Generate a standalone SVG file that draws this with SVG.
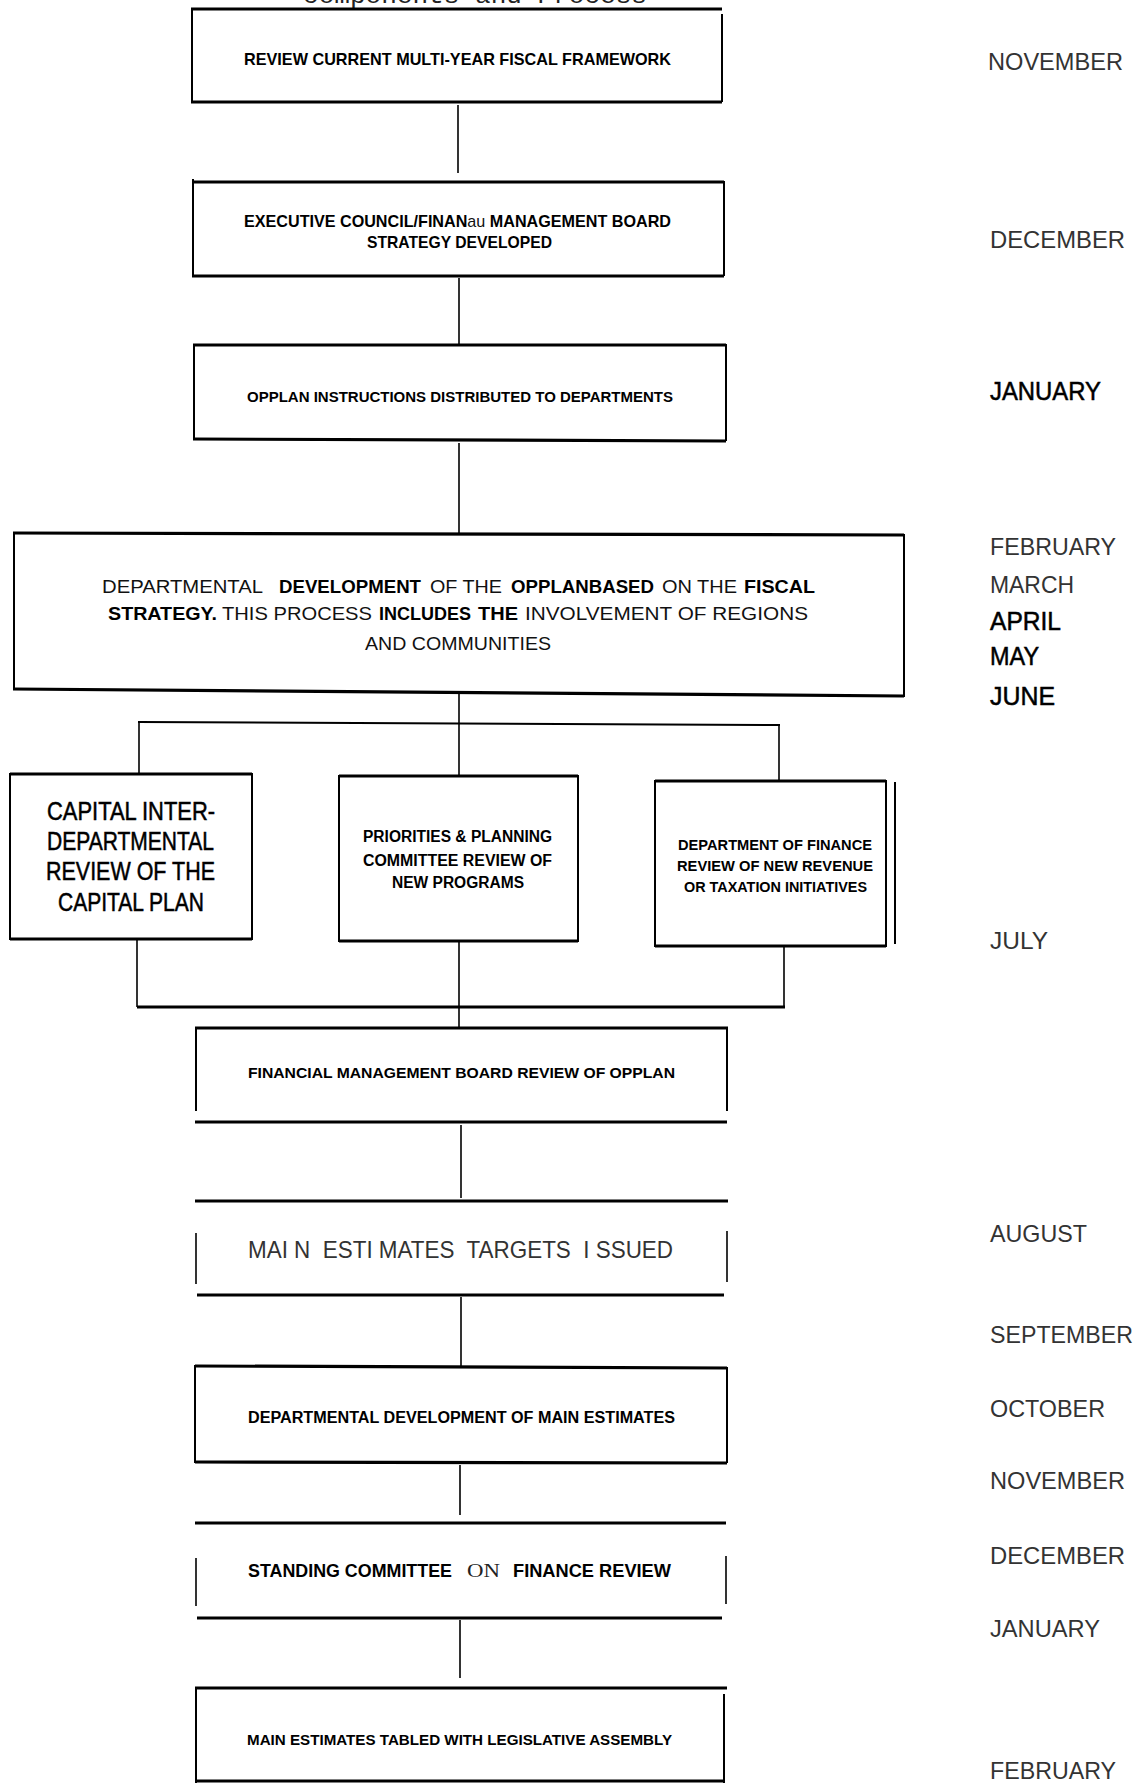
<svg xmlns="http://www.w3.org/2000/svg" width="1138" height="1783" viewBox="0 0 1138 1783">
<style>
  .ln { stroke:#000; stroke-width:2; fill:none; stroke-linecap:square; }
  .th { stroke:#000; stroke-width:3.2; fill:none; }
  .cn { stroke:#000; stroke-width:1.6; fill:none; }
  .m { font-family:"Liberation Sans Narrow","Liberation Sans",Arial,sans-serif; font-size:24px; fill:#333; white-space:pre; }
  .mb { font-family:"Liberation Sans Narrow","Liberation Sans",Arial,sans-serif; font-size:25px; fill:#000; stroke:#000; stroke-width:0.5; }
  .b { font-family:"Liberation Sans Narrow","Liberation Sans",Arial,sans-serif; font-weight:bold; fill:#000; }
  .r { font-family:"Liberation Sans Narrow","Liberation Sans",Arial,sans-serif; font-weight:normal; fill:#111; }
  .t { font-family:"Liberation Mono","DejaVu Sans Mono",monospace; font-size:24px; fill:#222; }
</style>
<rect width="1138" height="1783" fill="#fff"/>

<text class="t" x="303" y="3" textLength="344" lengthAdjust="spacingAndGlyphs">components and Process</text>

<g id="connectors">
  <line class="cn" x1="458" y1="105" x2="458" y2="173"/>
  <line class="cn" x1="459" y1="278" x2="459" y2="345"/>
  <line class="cn" x1="459" y1="443" x2="459" y2="533"/>
  <line class="cn" x1="459" y1="692" x2="459" y2="776"/>
  <line class="ln" x1="139" y1="722" x2="779" y2="725"/>
  <line class="cn" x1="139" y1="722" x2="139" y2="774"/>
  <line class="cn" x1="779" y1="725" x2="779" y2="781"/>
  <line class="cn" x1="137" y1="939" x2="137" y2="1007"/>
  <line class="cn" x1="459" y1="941" x2="459" y2="1028"/>
  <line class="cn" x1="784" y1="946" x2="784" y2="1007"/>
  <line class="th" x1="137" y1="1007" x2="785" y2="1007"/>
  <line class="cn" x1="461" y1="1125" x2="461" y2="1198"/>
  <line class="cn" x1="461" y1="1297" x2="461" y2="1366"/>
  <line class="cn" x1="460" y1="1465" x2="460" y2="1515"/>
  <line class="cn" x1="460" y1="1620" x2="460" y2="1678"/>
</g>

<g id="node-review-framework">
  <line class="th" x1="191" y1="9" x2="722" y2="9"/>
  <line class="ln" x1="192" y1="9" x2="192" y2="101"/>
  <line class="ln" x1="722" y1="15" x2="722" y2="101"/>
  <line class="th" x1="191" y1="102" x2="722" y2="102"/>
  <text class="b" x="244" y="65" font-size="17" textLength="427" lengthAdjust="spacingAndGlyphs">REVIEW CURRENT MULTI-YEAR FISCAL FRAMEWORK</text>
</g>

<g id="node-executive-council">
  <line class="th" x1="192" y1="182" x2="724" y2="182"/>
  <line class="ln" x1="193" y1="180" x2="193" y2="275"/>
  <line class="ln" x1="724" y1="182" x2="724" y2="275"/>
  <line class="th" x1="192" y1="276" x2="724" y2="276"/>
  <text class="b" x="244" y="227" font-size="17" textLength="427" lengthAdjust="spacingAndGlyphs">EXECUTIVE COUNCIL/FINAN<tspan class="r">au</tspan> MANAGEMENT BOARD</text>
  <text class="b" x="367" y="248" font-size="17" textLength="185" lengthAdjust="spacingAndGlyphs">STRATEGY DEVELOPED</text>
</g>

<g id="node-opplan-instructions">
  <line class="th" x1="193" y1="345" x2="726" y2="345"/>
  <line class="ln" x1="194" y1="345" x2="194" y2="438"/>
  <line class="ln" x1="726" y1="345" x2="726" y2="440"/>
  <line class="th" x1="193" y1="439" x2="726" y2="441"/>
  <text class="b" x="247" y="402" font-size="14" textLength="426" lengthAdjust="spacingAndGlyphs">OPPLAN INSTRUCTIONS DISTRIBUTED TO DEPARTMENTS</text>
</g>

<g id="node-departmental-opplan">
  <line class="th" x1="13" y1="533" x2="904" y2="535"/>
  <line class="ln" x1="14" y1="533" x2="14" y2="689"/>
  <line class="ln" x1="904" y1="535" x2="904" y2="696"/>
  <line class="th" x1="13" y1="689" x2="904" y2="696"/>
  <text class="r" x="102" y="593" font-size="18" textLength="161" lengthAdjust="spacingAndGlyphs">DEPARTMENTAL</text>
  <text class="b" x="279" y="593" font-size="18" textLength="142" lengthAdjust="spacingAndGlyphs">DEVELOPMENT</text>
  <text class="r" x="430" y="593" font-size="18" textLength="72" lengthAdjust="spacingAndGlyphs">OF THE</text>
  <text class="b" x="511" y="593" font-size="18" textLength="143" lengthAdjust="spacingAndGlyphs">OPPLANBASED</text>
  <text class="r" x="662" y="593" font-size="18" textLength="75" lengthAdjust="spacingAndGlyphs">ON THE</text>
  <text class="b" x="744" y="593" font-size="18" textLength="71" lengthAdjust="spacingAndGlyphs">FISCAL</text>
  <text class="b" x="108" y="620" font-size="18" textLength="109" lengthAdjust="spacingAndGlyphs">STRATEGY.</text>
  <text class="r" x="222" y="620" font-size="18" textLength="150" lengthAdjust="spacingAndGlyphs">THIS PROCESS</text>
  <text class="b" x="379" y="620" font-size="18" textLength="92" lengthAdjust="spacingAndGlyphs">INCLUDES</text>
  <text class="b" x="478" y="620" font-size="18" textLength="40" lengthAdjust="spacingAndGlyphs">THE</text>
  <text class="r" x="525" y="620" font-size="18" textLength="283" lengthAdjust="spacingAndGlyphs">INVOLVEMENT OF REGIONS</text>
  <text class="r" x="365" y="650" font-size="18" textLength="186" lengthAdjust="spacingAndGlyphs">AND COMMUNITIES</text>
</g>

<g id="node-capital-review">
  <rect class="ln" x="10" y="774" width="242" height="165"/>
  <line class="th" x1="10" y1="774" x2="252" y2="774"/>
  <line class="th" x1="10" y1="939" x2="252" y2="939"/>
  <text class="mb" x="47" y="820" textLength="168" lengthAdjust="spacingAndGlyphs">CAPITAL INTER-</text>
  <text class="mb" x="47" y="850" textLength="167" lengthAdjust="spacingAndGlyphs">DEPARTMENTAL</text>
  <text class="mb" x="46" y="880" textLength="169" lengthAdjust="spacingAndGlyphs">REVIEW OF THE</text>
  <text class="mb" x="58" y="911" textLength="146" lengthAdjust="spacingAndGlyphs">CAPITAL PLAN</text>
</g>

<g id="node-priorities-planning">
  <rect class="ln" x="339" y="776" width="239" height="165"/>
  <line class="th" x1="339" y1="776" x2="578" y2="776"/>
  <line class="th" x1="339" y1="941" x2="578" y2="941"/>
  <text class="b" x="363" y="842" font-size="16" textLength="189" lengthAdjust="spacingAndGlyphs">PRIORITIES &amp; PLANNING</text>
  <text class="b" x="363" y="866" font-size="16" textLength="189" lengthAdjust="spacingAndGlyphs">COMMITTEE REVIEW OF</text>
  <text class="b" x="392" y="888" font-size="16" textLength="132" lengthAdjust="spacingAndGlyphs">NEW PROGRAMS</text>
</g>

<g id="node-finance-review">
  <rect class="ln" x="655" y="781" width="231" height="165"/>
  <line class="th" x1="655" y1="781" x2="886" y2="781"/>
  <line class="th" x1="655" y1="946" x2="886" y2="946"/>
  <line class="ln" x1="895" y1="783" x2="895" y2="943"/>
  <text class="b" x="678" y="850" font-size="14" textLength="194" lengthAdjust="spacingAndGlyphs">DEPARTMENT OF FINANCE</text>
  <text class="b" x="677" y="871" font-size="14" textLength="196" lengthAdjust="spacingAndGlyphs">REVIEW OF NEW REVENUE</text>
  <text class="b" x="684" y="892" font-size="14" textLength="183" lengthAdjust="spacingAndGlyphs">OR TAXATION INITIATIVES</text>
</g>

<g id="node-fmb-review">
  <line class="th" x1="195" y1="1028" x2="728" y2="1028"/>
  <line class="ln" x1="196" y1="1028" x2="196" y2="1110"/>
  <line class="ln" x1="727" y1="1028" x2="727" y2="1110"/>
  <line class="th" x1="195" y1="1122" x2="727" y2="1122"/>
  <text class="b" x="248" y="1078" font-size="15" textLength="427" lengthAdjust="spacingAndGlyphs">FINANCIAL MANAGEMENT BOARD REVIEW OF OPPLAN</text>
</g>

<g id="node-targets-issued">
  <line class="th" x1="195" y1="1201" x2="728" y2="1201"/>
  <line class="cn" x1="196" y1="1233" x2="196" y2="1284"/>
  <line class="cn" x1="727" y1="1231" x2="727" y2="1282"/>
  <line class="th" x1="197" y1="1295" x2="724" y2="1295"/>
  <text class="m" x="248" y="1258" font-size="25" textLength="425" lengthAdjust="spacingAndGlyphs">MAI N  ESTI MATES  TARGETS  I SSUED</text>
</g>

<g id="node-dept-main-estimates">
  <line class="th" x1="195" y1="1366" x2="727" y2="1368"/>
  <line class="ln" x1="195" y1="1366" x2="195" y2="1462"/>
  <line class="ln" x1="727" y1="1368" x2="727" y2="1462"/>
  <line class="th" x1="195" y1="1462" x2="727" y2="1463"/>
  <text class="b" x="248" y="1423" font-size="16" textLength="427" lengthAdjust="spacingAndGlyphs">DEPARTMENTAL DEVELOPMENT OF MAIN ESTIMATES</text>
</g>

<g id="node-standing-committee">
  <line class="th" x1="195" y1="1523" x2="726" y2="1523"/>
  <line class="cn" x1="196" y1="1558" x2="196" y2="1606"/>
  <line class="cn" x1="726" y1="1556" x2="726" y2="1604"/>
  <line class="th" x1="197" y1="1618" x2="722" y2="1618"/>
  <text class="b" x="248" y="1577" font-size="19" textLength="204" lengthAdjust="spacingAndGlyphs">STANDING COMMITTEE</text>
  <text x="467" y="1577" font-family="Liberation Serif, serif" font-size="19" fill="#222" textLength="33" lengthAdjust="spacingAndGlyphs">ON</text>
  <text class="b" x="513" y="1577" font-size="19" textLength="158" lengthAdjust="spacingAndGlyphs">FINANCE REVIEW</text>
</g>

<g id="node-tabled-assembly">
  <line class="th" x1="195" y1="1688" x2="727" y2="1688"/>
  <line class="ln" x1="196" y1="1688" x2="196" y2="1782"/>
  <line class="ln" x1="724" y1="1695" x2="724" y2="1782"/>
  <line class="th" x1="195" y1="1781" x2="724" y2="1781"/>
  <text class="b" x="247" y="1745" font-size="15" textLength="425" lengthAdjust="spacingAndGlyphs">MAIN ESTIMATES TABLED WITH LEGISLATIVE ASSEMBLY</text>
</g>

<g id="months">
  <text class="m" x="988" y="70" textLength="135" lengthAdjust="spacingAndGlyphs">NOVEMBER</text>
  <text class="m" x="990" y="248" textLength="135" lengthAdjust="spacingAndGlyphs">DECEMBER</text>
  <text class="mb" x="990" y="400" textLength="111" lengthAdjust="spacingAndGlyphs">JANUARY</text>
  <text class="m" x="990" y="555" textLength="126" lengthAdjust="spacingAndGlyphs">FEBRUARY</text>
  <text class="m" x="990" y="593" textLength="84" lengthAdjust="spacingAndGlyphs">MARCH</text>
  <text class="mb" x="990" y="630" textLength="71" lengthAdjust="spacingAndGlyphs">APRIL</text>
  <text class="mb" x="990" y="665" textLength="49" lengthAdjust="spacingAndGlyphs">MAY</text>
  <text class="mb" x="990" y="705" textLength="65" lengthAdjust="spacingAndGlyphs">JUNE</text>
  <text class="m" x="990" y="949" textLength="58" lengthAdjust="spacingAndGlyphs">JULY</text>
  <text class="m" x="990" y="1242" textLength="97" lengthAdjust="spacingAndGlyphs">AUGUST</text>
  <text class="m" x="990" y="1343" textLength="143" lengthAdjust="spacingAndGlyphs">SEPTEMBER</text>
  <text class="m" x="990" y="1417" textLength="115" lengthAdjust="spacingAndGlyphs">OCTOBER</text>
  <text class="m" x="990" y="1489" textLength="135" lengthAdjust="spacingAndGlyphs">NOVEMBER</text>
  <text class="m" x="990" y="1564" textLength="135" lengthAdjust="spacingAndGlyphs">DECEMBER</text>
  <text class="m" x="990" y="1637" textLength="110" lengthAdjust="spacingAndGlyphs">JANUARY</text>
  <text class="m" x="990" y="1779" textLength="126" lengthAdjust="spacingAndGlyphs">FEBRUARY</text>
</g>
</svg>
